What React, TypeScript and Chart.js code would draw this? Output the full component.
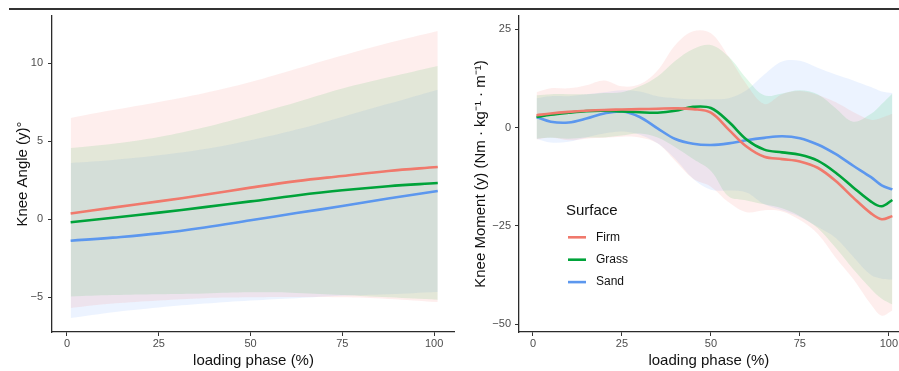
import React, { useEffect, useRef } from "react";
import { Chart, registerables } from "chart.js";

Chart.register(...registerables);

// ---------- data ----------
const surfaces = ["Firm", "Grass", "Sand"];
const lineColors = ["#F0796C", "#00A33A", "#5C97EE"];
const fillColors = ["rgba(248,118,109,0.12)", "rgba(0,186,56,0.12)", "rgba(97,156,255,0.12)"];

const xTicks = [0, 25, 50, 75, 100];
const angleTicks = [-5, 0, 5, 10];
const momentTicks = [-50, -25, 0, 25];

// Knee angle (left panel)
const angleX = [1, 12.5, 25, 37.5, 50, 62.5, 75, 87.5, 101];
const angleFirm = [0.37, 0.75, 1.15, 1.57, 2.03, 2.45, 2.78, 3.1, 3.35];
const angleGrass = [-0.19, 0.1, 0.43, 0.78, 1.15, 1.53, 1.86, 2.12, 2.33];
const angleSand = [-1.37, -1.17, -0.9, -0.52, -0.06, 0.4, 0.85, 1.33, 1.81];
const angleFirmUp = [6.5, 7.0, 7.52, 8.1, 8.8, 9.65, 10.5, 11.3, 12.07];
const angleGrassUp = [4.57, 4.85, 5.28, 5.9, 6.67, 7.5, 8.38, 9.1, 9.83];
const angleSandUp = [3.61, 3.8, 4.1, 4.5, 5.06, 5.75, 6.56, 7.4, 8.31];
const angleFirmLo = [-5.68, -5.4, -5.2, -5.05, -5.0, -4.98, -5.0, -5.1, -5.3];
const angleGrassLo = [-4.94, -4.85, -4.8, -4.75, -4.68, -4.72, -4.85, -5.0, -5.15];
const angleSandLo = [-6.33, -5.95, -5.65, -5.4, -5.2, -5.05, -4.9, -4.8, -4.66];

// Knee moment (right panel)
const momentX = [1, 5, 10, 15, 20, 25, 30, 35, 40, 45, 50, 55, 60, 65, 70, 75, 80, 85, 90, 95, 98, 101];
const momentFirm = [3.15, 3.6, 4.0, 4.3, 4.5, 4.6, 4.7, 4.8, 4.9, 4.7, 3.8, -0.5, -4.8, -7.4, -8.0, -8.6, -10.2, -13.5, -17.8, -21.8, -23.3, -22.5];
const momentGrass = [2.7, 3.3, 3.8, 4.2, 4.3, 4.1, 3.9, 3.8, 4.3, 5.3, 5.0, 1.5, -3.0, -5.6, -6.3, -6.9, -8.4, -11.4, -15.2, -18.8, -20.0, -18.4];
const momentSand = [2.7, 1.5, 1.3, 2.3, 3.6, 4.1, 2.7, -0.2, -2.9, -4.1, -4.4, -4.0, -3.2, -2.6, -2.2, -2.7, -4.3, -6.7, -9.7, -12.6, -14.7, -15.7];
const momentFirmUp = [9.0, 10.0, 10.0, 10.8, 12.0, 10.5, 11.0, 14.5, 21.0, 24.5, 24.0, 18.0, 11.0, 6.0, 8.5, 9.3, 8.3, 6.5, 4.0, 2.0, 2.5, 3.5];
const momentGrassUp = [8.2, 8.5, 8.5, 8.5, 8.8, 9.0, 10.5, 13.0, 17.0, 20.0, 21.0, 18.0, 12.5, 8.2, 8.7, 9.5, 8.5, 5.0, 1.5, 3.5, 6.0, 8.7];
const momentSandUp = [7.5, 8.0, 8.0, 8.5, 9.0, 9.5, 9.2, 8.0, 7.5, 7.2, 7.2, 7.5, 9.5, 13.5, 16.8, 17.0, 15.2, 13.5, 12.0, 10.3, 9.2, 8.8];
const momentFirmLo = [-3.0, -2.5, -3.2, -2.8, -2.6, -2.3, -2.5, -4.0, -8.5, -13.0, -15.0, -19.0, -21.5, -21.0, -21.3, -23.5, -27.0, -33.0, -38.5, -45.0, -47.8, -46.5];
const momentGrassLo = [-2.8, -2.6, -2.8, -2.5, -2.5, -2.0, -1.5, -2.5, -5.0, -8.0, -11.0, -17.5, -18.5, -19.5, -20.5, -22.5, -25.5, -30.5, -36.0, -41.0, -43.5, -45.0];
const momentSandLo = [-2.8, -3.8, -3.6, -2.5, -1.5, -1.0, -1.8, -4.0, -8.0, -13.0, -15.8, -16.0, -16.5, -19.5, -21.0, -22.7, -25.2, -28.0, -32.8, -37.5, -38.4, -38.6];

// ---------- helpers ----------
const FONT = '"Liberation Sans", Arial, Helvetica, sans-serif';

function pts(xs: number[], ys: number[]) {
  return xs.map((x, i) => ({ x, y: ys[i] }));
}

function buildDatasets(xs: number[], means: number[][], ups: number[][], los: number[][], tension: number) {
  const ds: any[] = [];
  for (let i = 0; i < 3; i++) {
    ds.push({
      label: surfaces[i] + " upper",
      data: pts(xs, ups[i]),
      borderColor: "transparent",
      borderWidth: 0,
      pointRadius: 0,
      backgroundColor: fillColors[i],
      fill: { target: "+1" },
      tension,
      order: 2,
    });
    ds.push({
      label: surfaces[i] + " lower",
      data: pts(xs, los[i]),
      borderColor: "transparent",
      borderWidth: 0,
      pointRadius: 0,
      fill: false,
      tension,
      order: 2,
    });
  }
  for (let i = 0; i < 3; i++) {
    ds.push({
      label: surfaces[i],
      data: pts(xs, means[i]),
      borderColor: lineColors[i],
      borderWidth: 2.6,
      pointRadius: 0,
      fill: false,
      tension,
      order: 0,
    });
  }
  return ds;
}

const fmtTick = (v: any) => String(v).replace("-", "\u2212");

function buildOptions(p: {
  xMin: number; xMax: number; yMin: number; yMax: number; yTicks: number[];
  yTitle: string; yWidth: number; titlePad: number; tickPad: number;
}) {
  return {
    responsive: false,
    animation: false,
    devicePixelRatio: 1,
    layout: { padding: { top: 16, left: 0, right: 0, bottom: 0 } },
    plugins: {
      legend: { display: false },
      tooltip: { enabled: false },
      filler: { drawTime: "beforeDatasetsDraw" },
    },
    scales: {
      x: {
        type: "linear",
        min: p.xMin,
        max: p.xMax,
        afterBuildTicks: (s: any) => { s.ticks = xTicks.map((v) => ({ value: v })); },
        afterFit: (s: any) => { s.height = 39; },
        grid: { drawOnChartArea: false, drawTicks: true, tickLength: 4, tickColor: "#333", tickWidth: 1 },
        border: { display: true, color: "#2b2b2b", width: 1.3 },
        ticks: { color: "#4D4D4D", font: { family: FONT, size: 11 }, padding: 1, maxRotation: 0, callback: fmtTick },
        title: {
          display: true, text: "loading phase (%)", color: "#111",
          font: { family: FONT, size: 15 }, padding: { top: 0, bottom: 1.5 },
        },
      },
      y: {
        type: "linear",
        min: p.yMin,
        max: p.yMax,
        afterBuildTicks: (s: any) => { s.ticks = p.yTicks.map((v) => ({ value: v })); },
        afterFit: (s: any) => { s.width = p.yWidth; },
        grid: { drawOnChartArea: false, drawTicks: true, tickLength: 4, tickColor: "#333", tickWidth: 1 },
        border: { display: true, color: "#2b2b2b", width: 1.3 },
        ticks: { color: "#4D4D4D", font: { family: FONT, size: 11 }, padding: p.tickPad, callback: fmtTick },
        title: {
          display: true, text: p.yTitle, color: "#111",
          font: { family: FONT, size: 15 }, padding: { top: p.titlePad, bottom: 0 },
        },
      },
    },
  } as any;
}

const legendPlugin = {
  id: "surfaceLegend",
  afterDraw(chart: any) {
    const ctx = chart.ctx;
    const { left, top } = chart.chartArea;
    const x0 = left + 47;
    const y0 = top + 195;
    ctx.save();
    ctx.textBaseline = "middle";
    ctx.textAlign = "left";
    ctx.fillStyle = "#111";
    ctx.font = `15px ${FONT}`;
    ctx.fillText("Surface", x0, y0);
    ctx.font = `12px ${FONT}`;
    surfaces.forEach((s, i) => {
      const y = y0 + 26.3 + i * 22.4;
      ctx.strokeStyle = lineColors[i];
      ctx.lineWidth = 2.6;
      ctx.beginPath();
      ctx.moveTo(x0 + 2, y);
      ctx.lineTo(x0 + 20, y);
      ctx.stroke();
      ctx.fillStyle = "#111";
      ctx.fillText(s, x0 + 30, y);
    });
    ctx.restore();
  },
};

export default function App() {
  const leftRef = useRef<HTMLCanvasElement>(null);
  const rightRef = useRef<HTMLCanvasElement>(null);

  useEffect(() => {
    const left = new Chart(leftRef.current as HTMLCanvasElement, {
      type: "line",
      data: {
        datasets: buildDatasets(
          angleX,
          [angleFirm, angleGrass, angleSand],
          [angleFirmUp, angleGrassUp, angleSandUp],
          [angleFirmLo, angleGrassLo, angleSandLo],
          0.4
        ),
      },
      options: buildOptions({
        xMin: -4.08, xMax: 105.7, yMin: -7.22, yMax: 13.03, yTicks: angleTicks,
        yTitle: "Knee Angle (y)°", yWidth: 52, titlePad: 13.5, tickPad: 5,
      }),
    } as any);
    const right = new Chart(rightRef.current as HTMLCanvasElement, {
      type: "line",
      data: {
        datasets: buildDatasets(
          momentX,
          [momentFirm, momentGrass, momentSand],
          [momentFirmUp, momentGrassUp, momentSandUp],
          [momentFirmLo, momentGrassLo, momentSandLo],
          0.35
        ),
      },
      options: buildOptions({
        xMin: -3.93, xMax: 102.8, yMin: -51.96, yMax: 28.38, yTicks: momentTicks,
        yTitle: "Knee Moment (y) (Nm · kg⁻¹ · m⁻¹)", yWidth: 64, titlePad: 16.5, tickPad: 4,
      }),
      plugins: [legendPlugin],
    } as any);
    return () => {
      left.destroy();
      right.destroy();
    };
  }, []);

  return (
    <div style={{ position: "fixed", left: 0, top: 0, width: 899, height: 371, overflow: "hidden", background: "#fff" }}>
      <div style={{ position: "absolute", left: 9, right: 0, top: 8, height: 1.6, background: "#333" }} />
      <canvas ref={leftRef} width={455} height={371} style={{ position: "absolute", left: 0, top: 0, width: 455, height: 371 }} />
      <canvas ref={rightRef} width={444} height={371} style={{ position: "absolute", left: 455, top: 0, width: 444, height: 371 }} />
    </div>
  );
}
